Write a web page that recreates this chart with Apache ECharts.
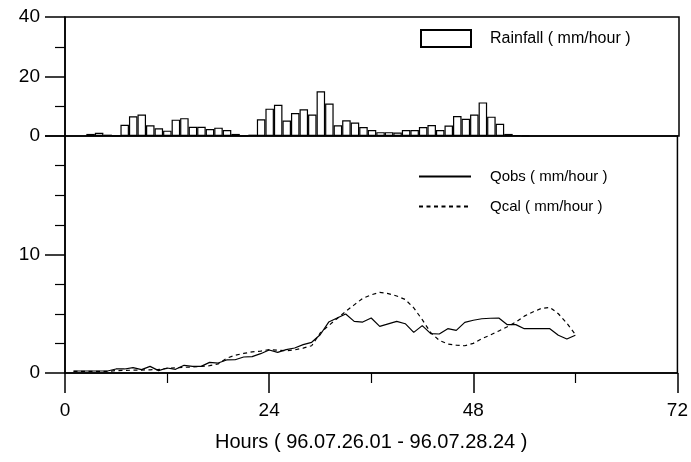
<!DOCTYPE html>
<html>
<head>
<meta charset="utf-8">
<script src="https://cdn.jsdelivr.net/npm/echarts@6/dist/echarts.min.js"></script>
<style>html,body{margin:0;padding:0;background:#fff;}#c{width:691px;height:462px;}</style>
</head>
<body>
<div id="c"></div>
<script>
// Rainfall (mm/hour), hourly bars
const rainHours = [3,4,5,6,7,8,9,10,11,12,13,14,15,16,17,18,19,20,21,22,23,24,25,26,27,28,29,30,31,32,33,34,35,36,37,38,39,40,41,42,43,44,45,46,47,48,49,50,51,52,53,54];
const rainfall = [0.7,1.1,0.45,0.1,3.8,6.6,7.2,3.6,2.6,1.8,5.5,6.0,3.1,3.1,2.35,2.8,2.0,0.7,0.1,0.45,5.6,9.2,10.5,5.2,7.7,9.0,7.2,15.0,10.9,3.6,5.3,4.5,3.0,2.0,1.3,1.3,1.2,2.0,2.0,3.0,3.7,2.0,3.5,6.7,5.8,7.2,11.3,6.5,4.1,0.7,0.35,0.1];
// Discharge (mm/hour)
const qHours = [1,2,3,4,5,6,7,8,9,10,11,12,13,14,15,16,17,18,19,20,21,22,23,24,25,26,27,28,29,30,31,32,33,34,35,36,37,38,39,40,41,42,43,44,45,46,47,48,49,50,51,52,53,54,55,56,57,58,59,60];
const qobs = [0.17,0.17,0.17,0.17,0.17,0.34,0.34,0.45,0.28,0.56,0.2,0.42,0.31,0.65,0.56,0.56,0.9,0.84,1.1,1.12,1.35,1.38,1.63,1.94,1.74,1.97,2.11,2.39,2.59,3.23,4.3,4.64,4.98,4.36,4.3,4.64,3.94,4.15,4.36,4.16,3.43,4.0,3.32,3.29,3.74,3.6,4.27,4.45,4.58,4.62,4.64,4.08,4.08,3.74,3.74,3.74,3.74,3.18,2.87,3.18];
const qcal = [0.14,0.14,0.14,0.14,0.14,0.2,0.22,0.24,0.25,0.27,0.3,0.38,0.45,0.48,0.5,0.55,0.62,0.76,1.25,1.5,1.65,1.78,1.85,1.97,1.92,1.88,1.95,2.1,2.3,3.37,4.0,4.6,5.2,5.75,6.3,6.6,6.8,6.7,6.5,6.2,5.5,4.5,3.4,2.75,2.45,2.35,2.3,2.5,2.9,3.2,3.55,3.9,4.3,4.8,5.15,5.45,5.54,5.0,4.2,3.24];
const xTicks = [0,24,48,72];
const rainTicks = [0,20,40];
const qTicks = [0,10];
// hour slots 0..72 for the rainfall panel's category axis
const hourSlots = [];
for (let h = 0; h <= 72; h++) hourSlots.push(String(h));

const FONT = 'Liberation Sans, Arial, Helvetica, sans-serif';
const chart = echarts.init(document.getElementById('c'), null, {renderer:'canvas'});
const pair = (xs, ys) => xs.map((x, i) => [x, ys[i]]);

chart.setOption({
  animation: false,
  backgroundColor: '#fff',
  textStyle: {fontFamily: FONT, color: '#000'},
  grid: [
    {left: 65, right: 12, top: 17, height: 119, show: true, borderColor: '#000', borderWidth: 1.5, backgroundColor: 'transparent'},
    {left: 65, right: 12, top: 136, height: 237, show: true, borderColor: '#000', borderWidth: 1.5, backgroundColor: 'transparent'}
  ],
  legend: [
    {data: ['Rainfall ( mm/hour )'], left: 415, top: 24, icon: 'rect', itemWidth: 50, itemHeight: 17,
     selectedMode: false, textStyle: {fontFamily: FONT, fontSize: 16, color: '#000', padding: [0,0,0,14]}},
    {data: ['Qobs ( mm/hour )', 'Qcal ( mm/hour )'], orient: 'vertical', left: 413, top: 164, itemWidth: 52, itemHeight: 15, itemGap: 15,
     itemStyle: {opacity: 0},
     selectedMode: false, textStyle: {fontFamily: FONT, fontSize: 15, color: '#000', padding: [0,0,0,14]}}
  ],
  xAxis: [
    {gridIndex: 0, type: 'category', data: hourSlots, boundaryGap: false,
     axisLine: {show: false}, axisTick: {show: false}, axisLabel: {show: false}, splitLine: {show: false}},
    {gridIndex: 1, type: 'value', min: 0, max: 72, interval: 24,
     name: 'Hours ( 96.07.26.01 - 96.07.28.24 )', nameLocation: 'middle', nameGap: 59,
     nameTextStyle: {fontFamily: FONT, fontSize: 20, color: '#000'},
     axisLine: {show: true, lineStyle: {color: '#000', width: 1.5}},
     axisTick: {show: true, inside: false, length: 20, lineStyle: {color: '#000', width: 1.5}},
     minorTick: {show: true, splitNumber: 2, length: 10, lineStyle: {color: '#000', width: 1.2}},
     axisLabel: {margin: 28, fontFamily: FONT, fontSize: 19, color: '#000',
       formatter: v => xTicks.includes(v) ? String(v) : ''},
     splitLine: {show: false}}
  ],
  yAxis: [
    {gridIndex: 0, type: 'value', min: 0, max: 40, interval: 20,
     axisLine: {show: true, lineStyle: {color: '#000', width: 1.5}},
     axisTick: {show: true, inside: false, length: 20, lineStyle: {color: '#000', width: 1.5}},
     minorTick: {show: true, splitNumber: 2, length: 10, lineStyle: {color: '#000', width: 1.2}},
     axisLabel: {margin: 25, fontFamily: FONT, fontSize: 19, color: '#000',
       formatter: v => rainTicks.includes(v) ? String(v) : ''},
     splitLine: {show: false}},
    {gridIndex: 1, type: 'value', min: 0, max: 20, interval: 10,
     axisLine: {show: true, lineStyle: {color: '#000', width: 1.5}},
     axisTick: {show: true, inside: false, length: 20, lineStyle: {color: '#000', width: 1.5}},
     minorTick: {show: true, splitNumber: 4, length: 10, lineStyle: {color: '#000', width: 1.2}},
     axisLabel: {margin: 25, fontFamily: FONT, fontSize: 19, color: '#000',
       formatter: v => qTicks.includes(v) ? String(v) : ''},
     splitLine: {show: false}}
  ],
  series: [
    {name: 'Rainfall ( mm/hour )', type: 'bar', xAxisIndex: 0, yAxisIndex: 0,
     data: pair(rainHours.map(String), rainfall), barWidth: '100%', barGap: '0%', barCategoryGap: '0%',
     itemStyle: {color: '#fff', borderColor: '#000', borderWidth: 1.2}},
    {name: 'Qobs ( mm/hour )', type: 'line', xAxisIndex: 1, yAxisIndex: 1,
     data: pair(qHours, qobs), symbol: 'none', lineStyle: {color: '#000', width: 1.2, type: 'solid'},
     itemStyle: {color: '#000'}},
    {name: 'Qcal ( mm/hour )', type: 'line', xAxisIndex: 1, yAxisIndex: 1,
     data: pair(qHours, qcal), symbol: 'none', lineStyle: {color: '#000', width: 1.2, type: [4, 3.5]},
     itemStyle: {color: '#000'}}
  ]
});
</script>
</body>
</html>
